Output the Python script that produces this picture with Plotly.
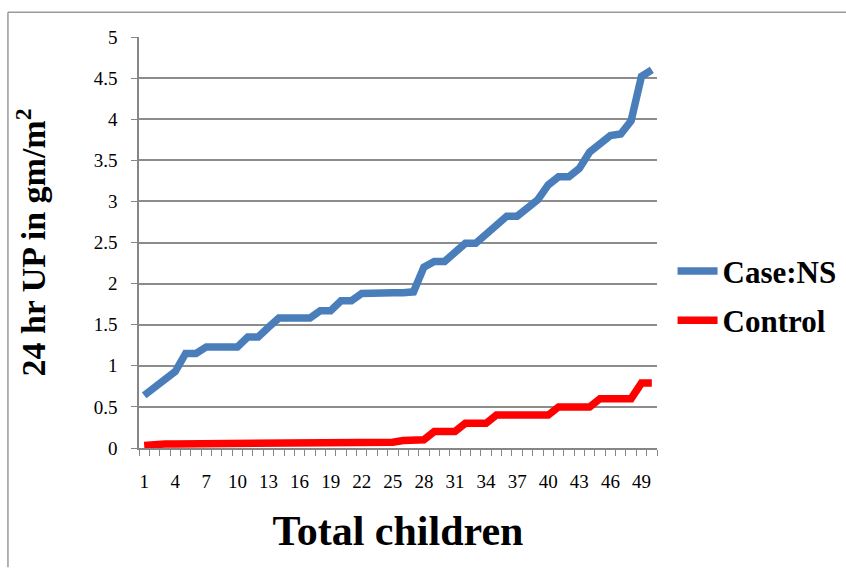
import plotly.graph_objects as go

children = list(range(1, 51))

case_ns = [0.64, 0.74, 0.83, 0.93, 1.15, 1.15, 1.23, 1.23, 1.23, 1.23,
           1.35, 1.35, 1.47, 1.58, 1.58, 1.58, 1.58, 1.67, 1.67, 1.79,
           1.79, 1.88, 1.89, 1.89, 1.89, 1.89, 1.9, 2.2, 2.27, 2.27,
           2.39, 2.49, 2.49, 2.6, 2.7, 2.82, 2.82, 2.93, 3.02, 3.2,
           3.3, 3.3, 3.4, 3.6, 3.7, 3.8, 3.82, 3.98, 4.52, 4.6]

control = [0.03, 0.05, 0.05, 0.05, 0.05, 0.05, 0.05, 0.05, 0.05, 0.05,
           0.05, 0.05, 0.05, 0.07, 0.07, 0.07, 0.07, 0.07, 0.07, 0.07,
           0.07, 0.07, 0.07, 0.07, 0.07, 0.09, 0.1, 0.1, 0.2, 0.2,
           0.2, 0.3, 0.3, 0.3, 0.4, 0.4, 0.4, 0.4, 0.4, 0.4,
           0.5, 0.5, 0.5, 0.5, 0.6, 0.6, 0.6, 0.6, 0.79, 0.79]

x_ticks = list(range(1, 51, 3))
y_ticks = [0, 0.5, 1, 1.5, 2, 2.5, 3, 3.5, 4, 4.5, 5]
y_labels = ["0", "0.5", "1", "1.5", "2", "2.5", "3", "3.5", "4", "4.5", "5"]

serif = "Liberation Serif, Times New Roman, serif"

fig = go.Figure()
fig.add_trace(go.Scatter(x=children, y=case_ns, name="Case:NS", mode="lines",
                         line=dict(color="#4a7ebb", width=7.5), legend="legend"))
fig.add_trace(go.Scatter(x=children, y=control, name="Control", mode="lines",
                         line=dict(color="#ff0000", width=7.5), legend="legend2"))

legend_style = dict(font=dict(family=serif, size=31, color="black", weight="bold"),
                    bgcolor="rgba(0,0,0,0)", xanchor="left", yanchor="middle",
                    itemwidth=40, tracegroupgap=0)

fig.update_layout(
    width=846, height=571,
    margin=dict(l=139, r=189, t=37, b=123, autoexpand=False),
    paper_bgcolor="white", plot_bgcolor="white",
    font=dict(family=serif, color="black"),
    legend=dict(x=1.03, y=0.43, **legend_style),
    legend2=dict(x=1.03, y=0.31, **legend_style),
    xaxis=dict(
        range=[0.5, 50.5], tickvals=x_ticks, ticks="", showgrid=False,
        showline=True, linecolor="#868686", linewidth=1.5,
        tickfont=dict(family=serif, size=19, color="black"), ticklabelstandoff=15,
        minor=dict(ticks="outside", tick0=0.5, dtick=1, ticklen=6,
                   tickcolor="#868686", showgrid=False),
        title=dict(text="Total children", standoff=25,
                   font=dict(family=serif, size=42, weight="bold")),
        zeroline=False,
    ),
    yaxis=dict(
        range=[0, 5], tickvals=y_ticks, ticktext=y_labels,
        ticks="outside", ticklen=6, tickcolor="#868686",
        showgrid=True, gridcolor="#8c8c8c", gridwidth=1.5,
        showline=True, linecolor="#868686", linewidth=1.5,
        tickfont=dict(family=serif, size=19, color="black"), ticklabelstandoff=10,
        title=dict(text="24 hr UP in gm/m<sup>2</sup>", standoff=38,
                   font=dict(family=serif, size=34, weight="bold")),
        zeroline=False,
    ),
    showlegend=True,
)

# chart frame (only left and top edges visible)
fig.add_shape(type="line", xref="paper", yref="paper", x0=-0.253, x1=1.38,
              y0=1.06, y1=1.06, line=dict(color="#9a9a9a", width=1.5))
fig.add_shape(type="line", xref="paper", yref="paper", x0=-0.253, x1=-0.253,
              y0=1.06, y1=-0.29, line=dict(color="#9a9a9a", width=1.5))

fig.write_html("out.html",
               config={"displayModeBar": False, "responsive": False},
               post_script="document.body.style.margin='0';"
                           "document.body.style.overflow='hidden';")
